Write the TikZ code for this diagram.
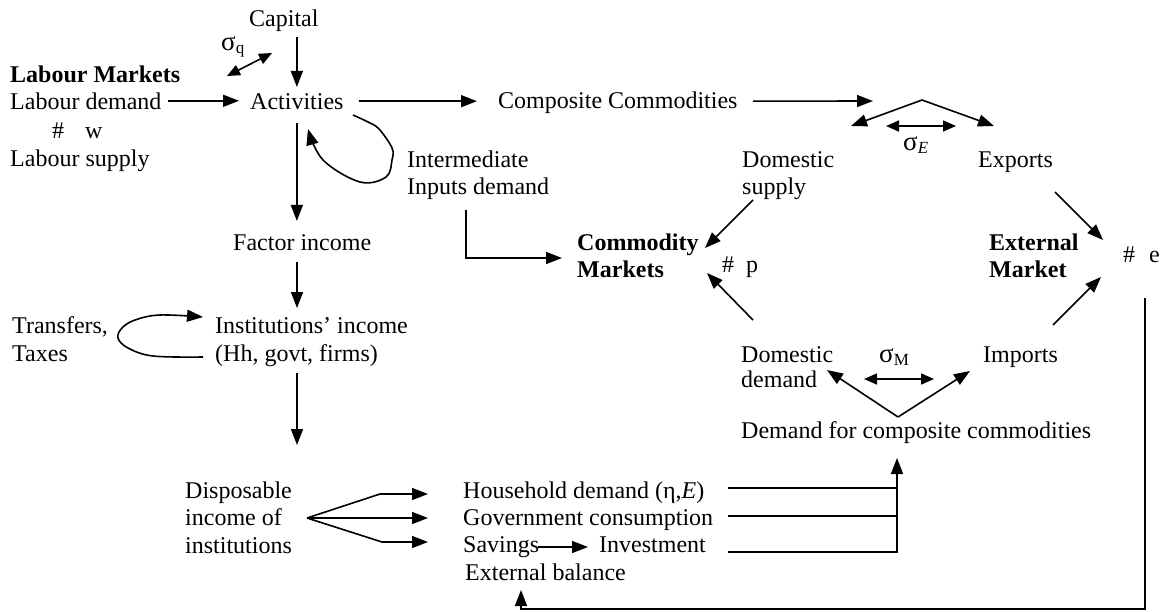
\documentclass[tikz,border=0pt]{standalone}
\usepackage{fontspec}
\setmainfont{Liberation Serif}
\usetikzlibrary{arrows.meta}
\newcommand{\sgmsub}[1]{{\fontsize{27}{27}\selectfont σ}\raisebox{-3pt}{\fontsize{17}{17}\selectfont #1}}
\tikzset{
  txt/.style={inner sep=0pt, anchor=base west, font=\fontsize{24}{28}\selectfont},
  btxt/.style={inner sep=0pt, anchor=base west, font=\fontsize{24}{28}\selectfont\bfseries},
  ln/.style={line width=1.6pt},
  arr/.style={line width=1.6pt, -{Triangle[length=16pt,width=12pt]}},
  darr/.style={line width=1.6pt, {Triangle[length=13pt,width=11pt]}-{Triangle[length=13pt,width=11pt]}},
}
\begin{document}
\begin{tikzpicture}[x=1pt,y=-1pt]
\useasboundingbox (0,0) rectangle (1167,611);
% texts
\node[txt] (cap) at (249,26) {Capital};
\node[txt] (sq) at (221,50) {\sgmsub{q}};
\node[btxt] (lm) at (10,82) {Labour Markets};
\node[txt] (ld) at (10,109) {Labour demand};
\node[txt] (w) at (52,138) {\#\hspace{21pt}w};
\node[txt] (ls) at (10,166) {Labour supply};
\node[txt] (act) at (250,109) {Activities};
\node[txt] (comp) at (498,108) {Composite Commodities};
\node[txt] (int1) at (407,167) {Intermediate};
\node[txt] (int2) at (407,194) {Inputs demand};
\node[txt] (ds1) at (742,167) {Domestic};
\node[txt] (ds2) at (742,194) {supply};
\node[txt] (sE) at (903,150) {\sgmsub{\itshape E}};
\node[txt] (exp) at (978,167) {Exports};
\node[txt] (fi) at (233,250) {Factor income};
\node[btxt] (cm1) at (577,250) {Commodity};
\node[btxt] (cm2) at (577,277) {Markets};
\node[txt] (p) at (722,272) {\#\hspace{12pt}p};
\node[btxt] (em1) at (989,250) {External};
\node[btxt] (em2) at (989,277) {Market};
\node[txt] (e) at (1123,262) {\#\hspace{14pt}e};
\node[txt] (tt1) at (12,333) {Transfers,};
\node[txt] (tt2) at (12,361) {Taxes};
\node[txt] (ii1) at (215,333) {Institutions’ income};
\node[txt] (ii2) at (215,361) {(Hh, govt, firms)};
\node[txt] (dd1) at (741,362) {Domestic};
\node[txt] (dd2) at (741,387) {demand};
\node[txt] (sM) at (879,362) {\sgmsub{M}};
\node[txt] (imp) at (983,362) {Imports};
\node[txt] (dfc) at (741,438) {Demand for composite commodities};
\node[txt] (di1) at (185,498) {Disposable};
\node[txt] (di2) at (185,525) {income of};
\node[txt] (di3) at (185,553) {institutions};
\node[txt] (hd) at (463,498) {Household demand (η,{\itshape E})};
\node[txt] (gc) at (463,525) {Government consumption};
\node[txt] (sav) at (463,552) {Savings};
\node[txt] (inv) at (599,552) {Investment};
\node[txt] (eb) at (465,580) {External balance};
% helper coordinates
\coordinate (split) at (873,101);
\coordinate (apex) at (922,100);
\coordinate (tipL) at (851,126);
\coordinate (tipR) at (994,126);
\coordinate (sEa) at (886,126);
\coordinate (sEb) at (956,126);
\coordinate (sMa) at (864,379);
\coordinate (sMb) at (934,379);
\coordinate (sqa) at (227,76);
\coordinate (sqb) at (272,53);
\coordinate (vL) at (827,370);
\coordinate (vA) at (898,417);
\coordinate (vR) at (970,371);
\coordinate (fan) at (307,518);
\coordinate (ebin) at (521,590);
% connectors
\draw[arr, shorten <=6pt, shorten >=6pt] (act.north |- cap.south) -- (act.north);
\draw[darr] (sqa) -- (sqb);
\draw[arr, shorten <=6pt, shorten >=11pt] (ld.east) -- (ld.east -| act.west);
\draw[arr, shorten <=15pt, shorten >=21pt] (act.east) -- (act.east -| comp.west);
\draw[arr, shorten <=15pt] (comp.east |- act.east) -- (split);
\draw[line width=1.6pt, {Triangle[length=16pt,width=12pt]}-{Triangle[length=16pt,width=12pt]}] (tipL) -- (apex) -- (tipR);
\draw[darr] (sEa) -- (sEb);
\draw[arr] (1055,192) -- (1103,240);
\draw[arr] (1053,325) -- (1101,277);
\draw[arr] (1145,298) -- (1145,609) -- (ebin |- 0,609) -- (ebin);
\draw[arr] (753,200) -- (705,248);
\draw[arr] (753,320) -- (707,273);
\draw[arr] (466,210) -- (466,258) -- (562,258);
\draw[arr, shorten <=14pt, shorten >=13pt] (act.south) -- (act.south |- fi.north);
\draw[arr] plot[smooth, tension=0.6] coordinates {(353,115) (368,122) (379,129) (392,148) (392,160) (386,177) (360,182) (323,160) (308,129)};
\draw[arr] (297,262) -- (297,308);
\draw[arr] (297,373) -- (297,445);
\draw[arr] plot[smooth, tension=0.6] coordinates {(203,357) (153,356) (128,348) (118,338) (122,328) (135,320) (160,315) (203,317)};
\draw[arr] (fan) -- (380,494) -- (428,494);
\draw[arr] (fan) -- (428,518);
\draw[arr] (fan) -- (382,542) -- (428,542);
\draw[arr] (538,547) -- (588,547);
\draw[ln] (728,488) -- (897,488);
\draw[ln] (728,516) -- (897,516);
\draw[arr] (728,552) -- (897,552) -- (897,458);
\draw[darr] (sMa) -- (sMb);
\draw[arr] (vA) -- (vL);
\draw[arr] (vA) -- (vR);
\end{tikzpicture}
\end{document}
